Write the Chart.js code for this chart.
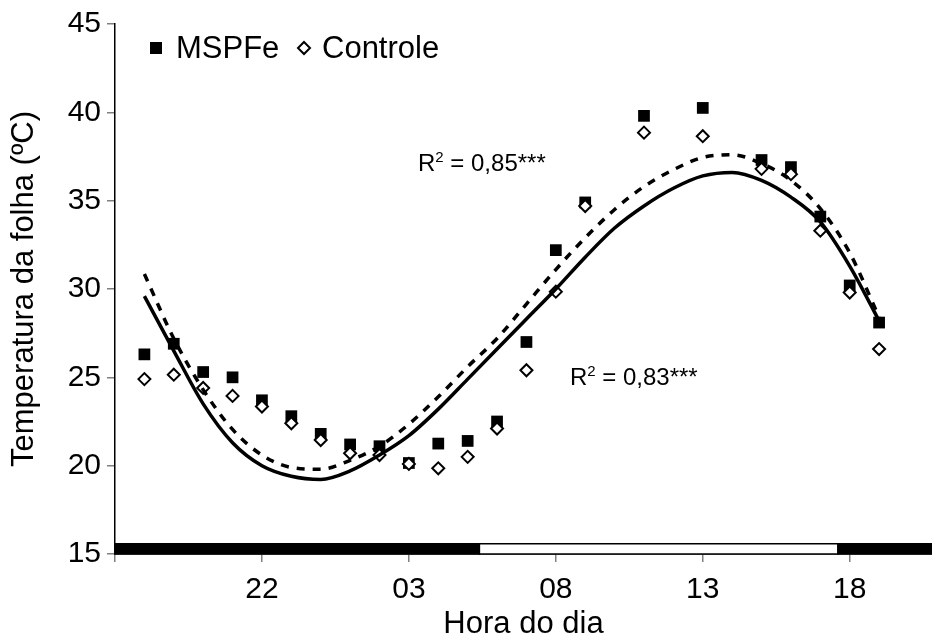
<!DOCTYPE html>
<html><head><meta charset="utf-8">
<script src="https://cdn.jsdelivr.net/npm/chart.js@4.4.0/dist/chart.umd.min.js"></script>
<style>html,body{margin:0;padding:0;background:#fff;}#wrap{width:932px;height:643px;position:relative;}</style>
</head><body><div id="wrap"><canvas id="c" width="932" height="643"></canvas></div>
<script>
// Hours on a continuous scale (24 = midnight, 27 = 03h, 42 = 18h of next day)
const hours = [18,19,20,21,22,23,24,25,26,27,28,29,30,31,32,33,35,37,39,40,41,42,43];
const mspfe = [26.3,26.9,25.3,25.0,23.7,22.8,21.8,21.2,21.1,20.15,21.25,21.4,22.5,27.0,32.2,34.9,39.8,40.25,37.3,36.9,34.1,30.2,28.1];
const controle = [24.9,25.15,24.4,23.95,23.35,22.4,21.45,20.7,20.6,20.1,19.85,20.5,22.1,25.4,29.85,34.7,38.85,38.65,36.8,36.5,33.3,29.8,26.6];
// Fitted curves
const fitHours = [18,19,20,21,22,23,24,25,26,27,28,29,30,31,32,33,34,35,36,37,38,39,40,41,42,43];
const fitSolid = [29.6,26.5,23.5,21.3,20.0,19.4,19.22,19.7,20.6,21.7,23.2,24.9,26.6,28.3,30.0,31.8,33.45,34.7,35.7,36.4,36.6,36.15,35.2,33.8,31.3,28.2];
const fitDashed = [30.85,27.2,24.3,22.05,20.6,19.9,19.8,20.3,21.1,22.35,23.9,25.6,27.2,29.15,31.1,32.9,34.5,35.8,36.75,37.45,37.6,37.1,36.15,34.55,32.05,28.4];
const xTickValues = [17,22,27,32,37,42];
const xTickLabels = ['','22','03','08','13','18'];
const yTickValues = [15,20,25,30,35,40,45];
// Photoperiod bar (dark = night)
const barStarts = [17,29.4,41.6];
const barEnds = [29.4,41.6,44.8];
const barDark = [true,false,true];
const r2Labels = ['0,85','0,83'];
const r2X = [27.31,32.48];
const r2Y = [36.7,24.59];

const FONT = '"Liberation Sans", Arial, sans-serif';

const toXY = (xs, ys) => xs.map((x,i)=>({x:x,y:ys[i]}));

const overlayPlugin = {
  id:'overlay',
  afterDraw(chart){
    const ctx = chart.ctx, xs = chart.scales.x, ys = chart.scales.y;
    ctx.save();
    // photoperiod bar
    const yTop = ys.getPixelForValue(15.58), yBot = ys.getPixelForValue(15);
    for (let i=0;i<barStarts.length;i++){
      const x0 = xs.getPixelForValue(barStarts[i]);
      const x1 = Math.min(xs.getPixelForValue(barEnds[i]), chart.width);
      ctx.fillStyle = barDark[i] ? '#000' : '#fff';
      ctx.fillRect(x0, yTop, x1-x0, yBot-yTop);
      ctx.strokeStyle = '#000'; ctx.lineWidth = 1.5;
      ctx.strokeRect(x0, yTop, x1-x0, yBot-yTop);
    }
    // legend
    const ly = 48;
    ctx.fillStyle = '#000';
    ctx.fillRect(150, ly-6, 12, 12);
    ctx.font = '31px ' + FONT;
    ctx.textBaseline = 'middle';
    ctx.textAlign = 'left';
    ctx.fillText('MSPFe', 176, ly+1);
    ctx.beginPath();
    ctx.moveTo(304, ly-6); ctx.lineTo(310, ly); ctx.lineTo(304, ly+6); ctx.lineTo(298, ly); ctx.closePath();
    ctx.fillStyle = '#fff'; ctx.fill();
    ctx.strokeStyle = '#000'; ctx.lineWidth = 2; ctx.stroke();
    ctx.fillStyle = '#000';
    ctx.fillText('Controle', 322, ly+1);
    // R² labels
    ctx.textBaseline = 'alphabetic';
    for (let i=0;i<r2Labels.length;i++){
      let x = xs.getPixelForValue(r2X[i]);
      const y = ys.getPixelForValue(r2Y[i]);
      ctx.font = '24px ' + FONT;
      ctx.fillText('R', x, y); x += ctx.measureText('R').width;
      ctx.font = '15px ' + FONT;
      ctx.fillText('2', x, y-9); x += ctx.measureText('2').width;
      ctx.font = '24px ' + FONT;
      const main = ' = ' + r2Labels[i] + '***';
      ctx.fillText(main, x, y);
    }
    ctx.restore();
  }
};

new Chart(document.getElementById('c'), {
  type:'scatter',
  data:{
    datasets:[
      {label:'fitSolid', type:'line', data:toXY(fitHours, fitSolid), borderColor:'#000', borderWidth:3.5, pointRadius:0, cubicInterpolationMode:'monotone', fill:false, order:0},
      {label:'fitDashed', type:'line', data:toXY(fitHours, fitDashed), borderColor:'#000', borderWidth:3.5, borderDash:[8,8], pointRadius:0, cubicInterpolationMode:'monotone', fill:false, order:0},
      {label:'Controle', data:toXY(hours, controle), pointStyle:'rectRot', pointRadius:6, backgroundColor:'#fff', borderColor:'#000', borderWidth:2, order:1},
      {label:'MSPFe', data:toXY(hours, mspfe), pointStyle:'rect', pointRadius:8.3, backgroundColor:'#000', borderColor:'#000', borderWidth:0, order:2}
    ]
  },
  options:{
    responsive:false, animation:false, devicePixelRatio:1,
    layout:{autoPadding:false, padding:{top:19, right:0, left:0, bottom:0}},
    plugins:{legend:{display:false}, tooltip:{enabled:false}},
    scales:{
      x:{
        type:'linear', min:17, max:44.8,
        afterBuildTicks:(s)=>{ s.ticks = xTickValues.map(v=>({value:v})); },
        ticks:{callback:(v)=>{const i=xTickValues.indexOf(v); return i>=0?xTickLabels[i]:'';}, font:{family:FONT,size:30}, color:'#000', padding:10, maxRotation:0, autoSkip:false},
        grid:{display:true, drawOnChartArea:false, drawTicks:true, tickLength:8, color:'#808080', lineWidth:1.5},
        border:{display:true, color:'#000', width:1.5},
        title:{display:true, text:'Hora do dia', font:{family:FONT,size:31}, color:'#000', padding:{top:0,bottom:0}},
        afterFit:(s)=>{ s.height = 89; }
      },
      y:{
        type:'linear', min:15, max:45,
        afterBuildTicks:(s)=>{ s.ticks = yTickValues.map(v=>({value:v})); },
        ticks:{font:{family:FONT,size:30}, color:'#000', padding:6},
        grid:{display:true, drawOnChartArea:false, drawTicks:true, tickLength:8, color:'#808080', lineWidth:1.5},
        border:{display:true, color:'#000', width:1.5},
        title:{display:true, text:'Temperatura da folha (ºC)', font:{family:FONT,size:31, lineHeight:1.2}, color:'#000', padding:{top:6,bottom:0}},
        afterFit:(s)=>{ s.width = 115; }
      }
    }
  },
  plugins:[overlayPlugin]
});
</script></body></html>
